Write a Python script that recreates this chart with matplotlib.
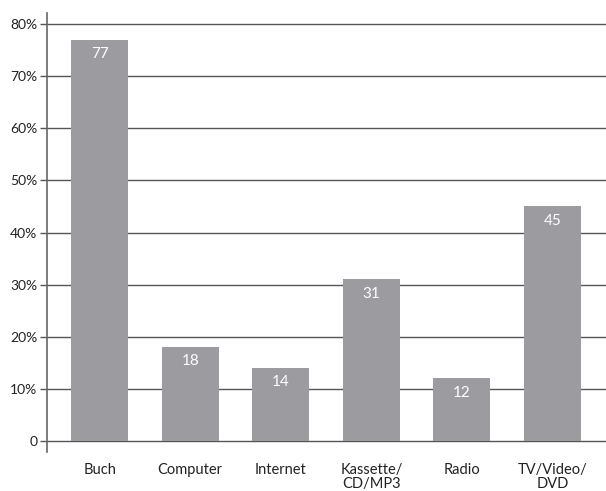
import numpy as np
import matplotlib.pyplot as plt

categories = ['Buch', 'Computer', 'Internet', 'Kassette/\nCD/MP3', 'Radio', 'TV/Video/\nDVD']
values = [77, 18, 14, 31, 12, 45]
yticks = [0, 10, 20, 30, 40, 50, 60, 70, 80]
ytick_labels = ['0', '10%', '20%', '30%', '40%', '50%', '60%', '70%', '80%']

plt.rcParams['font.family'] = ['Lato', 'DejaVu Sans']

fig = plt.figure(figsize=(6.06, 4.91), dpi=100)
ax = fig.add_axes([0.0776, 0.0794, 0.9224, 0.8941])

x = np.arange(len(categories))
ax.bar(x, values, width=0.63, color='#9c9ca0', zorder=2)

for xi, v in zip(x, values):
    ax.text(xi, v - 2.7, str(v), ha='center', va='center', color='white',
            fontsize=11, zorder=3)

for t in yticks:
    ax.axhline(t, color='#555555', linewidth=1.0, zorder=1)

ax.set_xlim(-0.58, 5.59)
ax.set_ylim(-2.1, 82.1)
ax.set_yticks(yticks)
ax.set_yticklabels(ytick_labels, fontsize=10, color='#222222')
ax.set_xticks(x)
ax.set_xticklabels(categories, fontsize=10.5, color='#222222', linespacing=1.0, va='top')
ax.tick_params(axis='x', length=0, pad=8)
ax.tick_params(axis='y', length=5, width=1, color='#555555', pad=2)

for s in ['top', 'right', 'bottom']:
    ax.spines[s].set_visible(False)
ax.spines['left'].set_color('#666666')
ax.spines['left'].set_linewidth(1.2)

fig.savefig('out.png', dpi=100)
